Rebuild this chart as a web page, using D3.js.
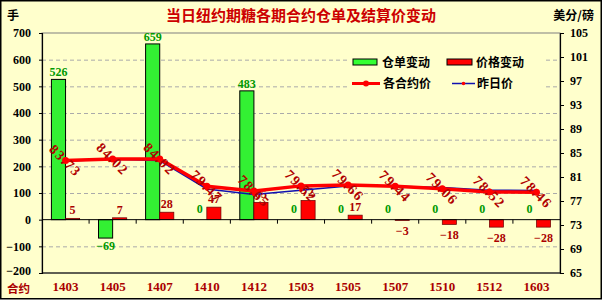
<!DOCTYPE html>
<html lang="zh">
<head>
<meta charset="utf-8">
<script src="https://d3js.org/d3.v7.min.js"></script>
<style>
  body { margin: 0; background: #fff; }
  text { font-family: "Liberation Serif", serif; font-weight: bold; }
  .cjk { font-family: "Noto Sans CJK SC", sans-serif; font-weight: bold; }
</style>
</head>
<body>
<svg id="chart" width="603" height="303"></svg>
<script>
  // data
  const contracts = ["1403", "1405", "1407", "1410", "1412", "1503", "1505", "1507", "1510", "1512", "1603"];
  const receiptChange = [526, -69, 659, 0, 483, 0, 0, 0, 0, 0, 0];
  const priceChange = [5, 7, 28, 47, 65, 72, 17, -3, -18, -28, -28];
  const settlePrice = [83.73, 84.02, 84.02, 79.47, 78.65, 79.52, 79.66, 79.44, 79.06, 78.52, 78.46];
  const prevPrice = [83.68, 83.95, 83.74, 79.00, 78.10, 78.80, 79.49, 79.47, 79.24, 78.80, 78.74];
  const leftTicks = [-200, -100, 0, 100, 200, 300, 400, 500, 600, 700];
  const rightTicks = [65, 69, 73, 77, 81, 85, 89, 93, 97, 101, 105];

  const bg = "#ffffcc";
  const plot = { left: 42, right: 560, top: 33, bottom: 273 };

  const svg = d3.select("#chart");

  svg.append("rect")
    .attr("x", 0.75).attr("y", 0.75)
    .attr("width", 600.5).attr("height", 298)
    .attr("fill", bg)
    .attr("stroke", "#000").attr("stroke-width", 1.5);

  const x = d3.scaleBand().domain(contracts).range([plot.left, plot.right]).padding(0);
  const yL = d3.scaleLinear().domain([-200, 700]).range([plot.bottom, plot.top]);
  const yR = d3.scaleLinear().domain([65, 105]).range([plot.bottom, plot.top]);
  const bw = x.bandwidth() * 0.3;
  const cx = c => x(c) + x.bandwidth() / 2;

  // plot frame
  svg.append("rect")
    .attr("x", plot.left).attr("y", plot.top)
    .attr("width", plot.right - plot.left).attr("height", plot.bottom - plot.top)
    .attr("fill", bg).attr("stroke", "#808080").attr("stroke-width", 1);

  // gridlines
  svg.append("g").selectAll("line")
    .data(leftTicks.filter(d => d !== 0 && d !== -200 && d !== 700))
    .join("line")
    .attr("x1", plot.left).attr("x2", plot.right)
    .attr("y1", d => yL(d) + 0.5).attr("y2", d => yL(d) + 0.5)
    .attr("stroke", "#aaa").attr("stroke-dasharray", "4,3");

  // legend (covers gridlines)
  const lg = svg.append("g");
  lg.append("rect").attr("x", 347).attr("y", 52).attr("width", 196).attr("height", 42).attr("fill", bg);
  lg.append("rect").attr("x", 353).attr("y", 59).attr("width", 24).attr("height", 6)
    .attr("fill", "#33ff33").attr("stroke", "#000");
  lg.append("text").attr("class", "cjk").attr("x", 382).attr("y", 66.5).attr("font-size", 12).text("仓单变动");
  lg.append("rect").attr("x", 447).attr("y", 59).attr("width", 25).attr("height", 6)
    .attr("fill", "#ff0000").attr("stroke", "#000");
  lg.append("text").attr("class", "cjk").attr("x", 476).attr("y", 66.5).attr("font-size", 12).text("价格变动");
  lg.append("line").attr("x1", 352).attr("x2", 380).attr("y1", 83.5).attr("y2", 83.5)
    .attr("stroke", "#ff0000").attr("stroke-width", 3);
  lg.append("circle").attr("cx", 366).attr("cy", 83.5).attr("r", 3).attr("fill", "#ff0000");
  lg.append("text").attr("class", "cjk").attr("x", 383).attr("y", 88).attr("font-size", 12).text("各合约价");
  lg.append("line").attr("x1", 452).attr("x2", 475).attr("y1", 83.5).attr("y2", 83.5)
    .attr("stroke", "#1010b0").attr("stroke-width", 1.5);
  lg.append("circle").attr("cx", 463.5).attr("cy", 83.5).attr("r", 1.8).attr("fill", "#ff0000");
  lg.append("text").attr("class", "cjk").attr("x", 477).attr("y", 88).attr("font-size", 12).text("昨日价");

  // bars
  svg.append("g").selectAll("rect")
    .data(contracts.map((c, i) => ({ c, v: receiptChange[i] })).filter(d => d.v !== 0))
    .join("rect")
    .attr("x", d => cx(d.c) - bw)
    .attr("y", d => yL(Math.max(0, d.v)))
    .attr("width", bw)
    .attr("height", d => Math.abs(yL(d.v) - yL(0)))
    .attr("fill", "#33f033").attr("stroke", "#000").attr("stroke-width", 1);

  svg.append("g").selectAll("rect")
    .data(contracts.map((c, i) => ({ c, v: priceChange[i] })))
    .join("rect")
    .attr("x", d => cx(d.c))
    .attr("y", d => yL(Math.max(0, d.v)))
    .attr("width", bw)
    .attr("height", d => Math.abs(yL(d.v) - yL(0)))
    .attr("fill", "#ff0000").attr("stroke", "#600").attr("stroke-width", 0.7);

  // zero line and category ticks
  svg.append("line")
    .attr("x1", plot.left).attr("x2", plot.right)
    .attr("y1", yL(0)).attr("y2", yL(0))
    .attr("stroke", "#000").attr("stroke-width", 1);
  svg.append("g").selectAll("line")
    .data(contracts.slice(1))
    .join("line")
    .attr("x1", d => x(d)).attr("x2", d => x(d))
    .attr("y1", yL(0)).attr("y2", yL(0) + 4)
    .attr("stroke", "#000");

  // bar labels
  svg.append("g").selectAll("text")
    .data(contracts.map((c, i) => ({ c, v: receiptChange[i] })))
    .join("text")
    .attr("x", d => cx(d.c) - bw / 2)
    .attr("y", d => d.v === 0 ? yL(0) - 7 : d.v > 0 ? yL(d.v) - 3 : yL(d.v) + 12)
    .attr("text-anchor", "middle")
    .attr("font-size", 12)
    .attr("fill", "#009900")
    .text(d => d.v < 0 ? "\u2212" + Math.abs(d.v) : d.v);

  svg.append("g").selectAll("text")
    .data(contracts.map((c, i) => ({ c, v: priceChange[i] })))
    .join("text")
    .attr("x", d => cx(d.c) + bw / 2)
    .attr("y", d => d.v > 0 ? yL(d.v) - 4 : yL(d.v) + 15)
    .attr("text-anchor", "middle")
    .attr("font-size", 12)
    .attr("fill", "#aa0000")
    .text(d => d.v < 0 ? "\u2212" + Math.abs(d.v) : d.v);

  // price lines
  const line = d3.line().x((d, i) => cx(contracts[i])).y(d => yR(d));
  svg.append("path").datum(prevPrice).attr("d", line)
    .attr("fill", "none").attr("stroke", "#1010b0").attr("stroke-width", 1.5);
  svg.append("g").selectAll("circle").data(prevPrice).join("circle")
    .attr("cx", (d, i) => cx(contracts[i])).attr("cy", d => yR(d)).attr("r", 1.8).attr("fill", "#ff0000");
  svg.append("path").datum(settlePrice).attr("d", line)
    .attr("fill", "none").attr("stroke", "#ff0000").attr("stroke-width", 3.5);
  svg.append("g").selectAll("circle").data(settlePrice).join("circle")
    .attr("cx", (d, i) => cx(contracts[i])).attr("cy", d => yR(d)).attr("r", 3.5).attr("fill", "#ff0000");

  svg.append("g").selectAll("text").data(settlePrice).join("text")
    .attr("transform", (d, i) => `translate(${cx(contracts[i])},${yR(d)}) rotate(45)`)
    .attr("text-anchor", "middle")
    .attr("dy", "0.35em")
    .attr("font-size", 14)
    .attr("letter-spacing", 1.5)
    .attr("fill", "#b00000")
    .text(d => d.toFixed(2));

  // axes
  const axL = svg.append("g")
    .attr("transform", `translate(${plot.left},0)`)
    .call(d3.axisLeft(yL).tickValues(leftTicks).tickSize(3).tickPadding(8).tickFormat(d => d < 0 ? "\u2212" + Math.abs(d) : d));
  const axR = svg.append("g")
    .attr("transform", `translate(${plot.right},0)`)
    .call(d3.axisRight(yR).tickValues(rightTicks).tickSize(4).tickPadding(6));
  [axL, axR].forEach(a => {
    a.select(".domain").attr("stroke", "#000").attr("stroke-width", 1.2);
    a.selectAll("text").attr("font-family", "Liberation Serif, serif").attr("font-weight", "bold")
      .attr("font-size", 12).attr("fill", "#000");
  });
  axL.selectAll(".tick text").filter(d => d === -200).attr("dy", "0.15em");

  // bottom line
  svg.append("line")
    .attr("x1", plot.left).attr("x2", plot.right)
    .attr("y1", plot.bottom).attr("y2", plot.bottom)
    .attr("stroke", "#000").attr("stroke-width", 1.2);

  // category labels
  svg.append("g").selectAll("text").data(contracts).join("text")
    .attr("x", d => cx(d)).attr("y", 291)
    .attr("text-anchor", "middle")
    .attr("font-size", 13)
    .attr("fill", "#aa0000")
    .text(d => d);

  // titles and units
  svg.append("text").attr("class", "cjk").attr("x", 301).attr("y", 21)
    .attr("text-anchor", "middle").attr("font-size", 15).attr("fill", "#cc0000")
    .text("当日纽约期糖各期合约仓单及结算价变动");
  svg.append("text").attr("class", "cjk").attr("x", 7).attr("y", 20).attr("font-size", 12).text("手");
  svg.append("text").attr("class", "cjk").attr("x", 594).attr("y", 20).attr("text-anchor", "end")
    .attr("font-size", 12).text("美分/磅");
  svg.append("text").attr("class", "cjk").attr("x", 7).attr("y", 293).attr("font-size", 11.5)
    .attr("fill", "#aa0000").text("合约");
</script>
</body>
</html>
